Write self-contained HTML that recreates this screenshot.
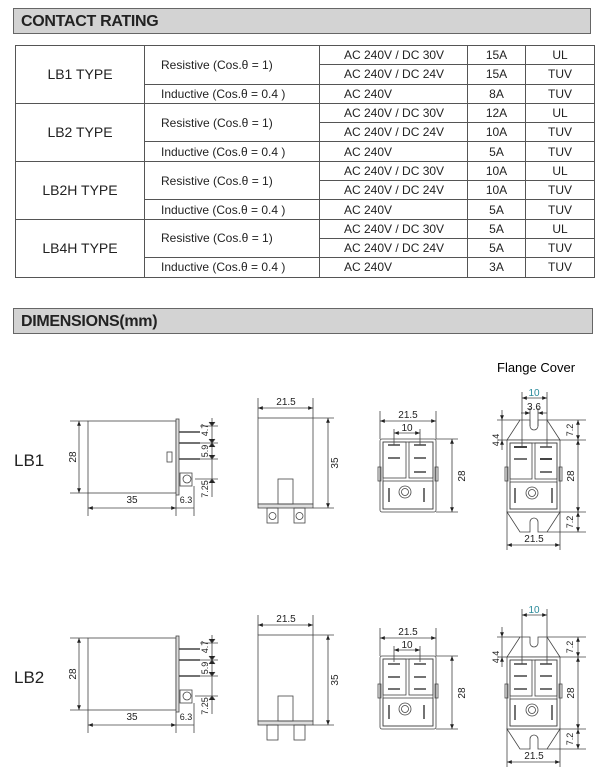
<!DOCTYPE html>
<html><head><meta charset="utf-8"><style>
body{margin:0;width:600px;height:781px;background:#fff;position:relative;overflow:hidden;font-family:"Liberation Sans",Arial,sans-serif;color:#222}
.bar{position:absolute;left:13px;width:578px;height:26px;background:#d3d3d3;border:1px solid #666;font-weight:bold;font-size:16px;line-height:26px;padding-left:7px;box-sizing:border-box;letter-spacing:-0.3px}
table{position:absolute;left:15px;top:45px;border-collapse:collapse;table-layout:fixed;font-size:12px}
td{border:1px solid #555;height:18.3px;padding:0;white-space:nowrap}
td.t{text-align:center;font-size:14px}
td.c{text-align:center}
td.l{padding-left:16px}
td.v{padding-left:24px}
</style></head><body>
<div class="bar" style="top:8px">CONTACT RATING</div>
<table>
<colgroup><col style="width:129px"><col style="width:175px"><col style="width:148px"><col style="width:58px"><col style="width:69px"></colgroup>
<tr><td class="t" rowspan="3">LB1 TYPE</td><td class="l" rowspan="2">Resistive (Cos.θ = 1)</td><td class="v">AC 240V / DC 30V</td><td class="c">15A</td><td class="c">UL</td></tr>
<tr><td class="v">AC 240V / DC 24V</td><td class="c">15A</td><td class="c">TUV</td></tr>
<tr><td class="l">Inductive (Cos.θ = 0.4 )</td><td class="v">AC 240V</td><td class="c">8A</td><td class="c">TUV</td></tr>
<tr><td class="t" rowspan="3">LB2 TYPE</td><td class="l" rowspan="2">Resistive (Cos.θ = 1)</td><td class="v">AC 240V / DC 30V</td><td class="c">12A</td><td class="c">UL</td></tr>
<tr><td class="v">AC 240V / DC 24V</td><td class="c">10A</td><td class="c">TUV</td></tr>
<tr><td class="l">Inductive (Cos.θ = 0.4 )</td><td class="v">AC 240V</td><td class="c">5A</td><td class="c">TUV</td></tr>
<tr><td class="t" rowspan="3">LB2H TYPE</td><td class="l" rowspan="2">Resistive (Cos.θ = 1)</td><td class="v">AC 240V / DC 30V</td><td class="c">10A</td><td class="c">UL</td></tr>
<tr><td class="v">AC 240V / DC 24V</td><td class="c">10A</td><td class="c">TUV</td></tr>
<tr><td class="l">Inductive (Cos.θ = 0.4 )</td><td class="v">AC 240V</td><td class="c">5A</td><td class="c">TUV</td></tr>
<tr><td class="t" rowspan="3">LB4H TYPE</td><td class="l" rowspan="2">Resistive (Cos.θ = 1)</td><td class="v">AC 240V / DC 30V</td><td class="c">5A</td><td class="c">UL</td></tr>
<tr><td class="v">AC 240V / DC 24V</td><td class="c">5A</td><td class="c">TUV</td></tr>
<tr><td class="l">Inductive (Cos.θ = 0.4 )</td><td class="v">AC 240V</td><td class="c">3A</td><td class="c">TUV</td></tr>
</table>
<div class="bar" style="top:308px;width:580px">DIMENSIONS(mm)</div>
<svg width="600" height="781" style="position:absolute;left:0;top:0" font-family="Liberation Sans, Arial, sans-serif">
<defs>
<marker id="a" viewBox="0 0 10 10" refX="10" refY="5" markerWidth="6" markerHeight="6" orient="auto-start-reverse"><path d="M0,1L10,5L0,9z" fill="#222"/></marker>
</defs>
<text x="497" y="372" font-size="13">Flange Cover</text>
<g id="row1" stroke="#444" stroke-width="0.8" fill="none">
<text x="14" y="466" font-size="17" fill="#222" stroke="none">LB1</text>
<!-- side view -->
<rect x="88" y="421" width="88" height="72" fill="#fff"/>
<rect x="176" y="419" width="3" height="76" fill="#ddd"/>
<line x1="179" y1="432" x2="200" y2="432" stroke-width="1.6"/>
<line x1="179" y1="443" x2="200" y2="443" stroke-width="1.6"/>
<line x1="179" y1="459" x2="200" y2="459" stroke-width="1.6"/>
<rect x="167" y="452" width="5" height="10"/>
<rect x="180" y="473" width="12" height="13"/><circle cx="187" cy="479" r="4"/>
<line x1="70" y1="421" x2="88" y2="421"/><line x1="70" y1="493" x2="88" y2="493"/>
<line x1="79" y1="421" x2="79" y2="493" marker-start="url(#a)" marker-end="url(#a)"/>
<text transform="translate(76,457) rotate(-90)" font-size="10" text-anchor="middle" fill="#222" stroke="none">28</text>
<line x1="88" y1="493" x2="88" y2="516"/><line x1="176" y1="495" x2="176" y2="516"/><line x1="194" y1="486" x2="194" y2="516"/>
<line x1="88" y1="508" x2="176" y2="508" marker-start="url(#a)" marker-end="url(#a)"/>
<line x1="176" y1="508" x2="194" y2="508"/>
<text x="132" y="503" font-size="10" text-anchor="middle" fill="#222" stroke="none">35</text>
<text x="186" y="503" font-size="9" text-anchor="middle" fill="#222" stroke="none">6.3</text>
<line x1="200" y1="426" x2="218" y2="426"/><line x1="200" y1="443" x2="218" y2="443"/><line x1="200" y1="459" x2="218" y2="459"/><line x1="195" y1="479" x2="218" y2="479"/>
<line x1="212" y1="418" x2="212" y2="497"/>
<path d="M209,422 L212,426 L215,422 M209,439 L212,443 L215,439 M209,447 L212,443 L215,447 M209,455 L212,459 L215,455 M209,483 L212,479 L215,483" fill="#222"/>
<text transform="translate(208,430) rotate(-90)" font-size="9" text-anchor="middle" fill="#222" stroke="none">4.7</text>
<text transform="translate(208,451) rotate(-90)" font-size="9" text-anchor="middle" fill="#222" stroke="none">5.9</text>
<text transform="translate(208,489) rotate(-90)" font-size="9" text-anchor="middle" fill="#222" stroke="none">7.25</text>
<!-- front view -->
<rect x="258" y="418" width="55" height="86" fill="#fff"/>
<rect x="258" y="504" width="55" height="4" fill="#ddd"/>
<rect x="278" y="479" width="15" height="25"/>
<rect x="267" y="508" width="11" height="15"/><circle cx="272.5" cy="516" r="3.5"/>
<rect x="294" y="508" width="11" height="15"/><circle cx="299.5" cy="516" r="3.5"/>
<line x1="258" y1="398" x2="258" y2="418"/><line x1="313" y1="398" x2="313" y2="418"/>
<line x1="258" y1="408" x2="313" y2="408" marker-start="url(#a)" marker-end="url(#a)"/>
<text x="286" y="405" font-size="10" text-anchor="middle" fill="#222" stroke="none">21.5</text>
<line x1="313" y1="418" x2="334" y2="418"/><line x1="313" y1="508" x2="334" y2="508"/>
<line x1="328" y1="418" x2="328" y2="508" marker-start="url(#a)" marker-end="url(#a)"/>
<text transform="translate(338,463) rotate(-90)" font-size="10" text-anchor="middle" fill="#222" stroke="none">35</text>
<!-- bottom view -->
<rect x="380" y="439" width="56" height="73" rx="2" fill="#fff"/>
<rect x="383" y="442" width="50" height="67"/>
<rect x="383" y="442" width="23" height="36"/><rect x="409" y="442" width="24" height="36"/>
<rect x="383" y="481" width="50" height="28"/>
<rect x="378" y="467" width="3" height="14"/><rect x="435" y="467" width="3" height="14"/>
<circle cx="405" cy="492" r="6"/><circle cx="405" cy="492" r="3.5"/>
<g stroke-width="1.5"><line x1="388" y1="445" x2="400" y2="445"/><line x1="388" y1="458" x2="400" y2="458"/><line x1="414" y1="445" x2="426" y2="445"/><line x1="414" y1="458" x2="426" y2="458"/><line x1="414" y1="472" x2="426" y2="472"/><line x1="389" y1="488" x2="389" y2="502"/><line x1="424" y1="488" x2="424" y2="502"/></g>
<line x1="380" y1="411" x2="380" y2="439"/><line x1="436" y1="411" x2="436" y2="439"/>
<line x1="380" y1="421" x2="436" y2="421" marker-start="url(#a)" marker-end="url(#a)"/>
<text x="408" y="418" font-size="10" text-anchor="middle" fill="#222" stroke="none">21.5</text>
<line x1="394" y1="429" x2="394" y2="445"/><line x1="420" y1="429" x2="420" y2="445"/>
<line x1="394" y1="433" x2="420" y2="433" marker-start="url(#a)" marker-end="url(#a)"/>
<text x="407" y="431" font-size="10" text-anchor="middle" fill="#222" stroke="none">10</text>
<line x1="436" y1="439" x2="458" y2="439"/><line x1="436" y1="512" x2="458" y2="512"/>
<line x1="452" y1="439" x2="452" y2="512" marker-start="url(#a)" marker-end="url(#a)"/>
<text transform="translate(465,476) rotate(-90)" font-size="10" text-anchor="middle" fill="#222" stroke="none">28</text>
<!-- flange view -->
<path d="M507,440 L520,420 L530,420 L530,426 A4,4 0 0 0 538,426 L538,420 L547,420 L560,440 Z" fill="#fff"/>
<path d="M507,512 L520,532 L530,532 L530,522 A4,4 0 0 1 538,522 L538,532 L547,532 L560,512 Z" fill="#fff"/>
<rect x="507" y="440" width="53" height="72" fill="#fff"/>
<rect x="510" y="443" width="47" height="66"/>
<rect x="510" y="443" width="22" height="36"/><rect x="535" y="443" width="22" height="36"/>
<rect x="510" y="482" width="47" height="27"/>
<rect x="505" y="467" width="3" height="14"/><rect x="559" y="467" width="3" height="14"/>
<circle cx="532" cy="493" r="6"/><circle cx="532" cy="493" r="3.5"/>
<g stroke-width="1.5"><line x1="514" y1="447" x2="527" y2="447" stroke-width="2"/><line x1="514" y1="459" x2="527" y2="459"/><line x1="540" y1="447" x2="552" y2="447"/><line x1="540" y1="459" x2="552" y2="459" stroke-width="2"/><line x1="540" y1="472" x2="552" y2="472"/><line x1="515" y1="488" x2="515" y2="503"/><line x1="552" y1="488" x2="552" y2="503"/></g>
<line x1="522" y1="392" x2="522" y2="447"/><line x1="547" y1="392" x2="547" y2="447"/>
<line x1="522" y1="398" x2="547" y2="398" marker-start="url(#a)" marker-end="url(#a)"/>
<text x="534" y="396" font-size="10" text-anchor="middle" fill="#2a8a9a" stroke="none">10</text>
<line x1="530" y1="408" x2="530" y2="426"/><line x1="538" y1="408" x2="538" y2="426"/>
<line x1="521" y1="413" x2="530" y2="413" marker-end="url(#a)"/><line x1="547" y1="413" x2="538" y2="413" marker-end="url(#a)"/>
<text x="534" y="410" font-size="10" text-anchor="middle" fill="#222" stroke="none">3.6</text>
<line x1="497" y1="420" x2="520" y2="420"/><line x1="497" y1="440" x2="507" y2="440"/>
<line x1="502" y1="410" x2="502" y2="420" marker-end="url(#a)"/><line x1="502" y1="450" x2="502" y2="440" marker-end="url(#a)"/>
<line x1="502" y1="420" x2="502" y2="440"/>
<text transform="translate(499,440) rotate(-90)" font-size="9" text-anchor="middle" fill="#222" stroke="none">4.4</text>
<line x1="547" y1="420" x2="586" y2="420"/><line x1="560" y1="440" x2="586" y2="440"/><line x1="560" y1="512" x2="586" y2="512"/><line x1="547" y1="532" x2="586" y2="532"/>
<line x1="578" y1="420" x2="578" y2="440" marker-start="url(#a)" marker-end="url(#a)"/>
<line x1="578" y1="440" x2="578" y2="512" marker-start="url(#a)" marker-end="url(#a)"/>
<line x1="578" y1="512" x2="578" y2="532" marker-start="url(#a)" marker-end="url(#a)"/>
<text transform="translate(573,430) rotate(-90)" font-size="9" text-anchor="middle" fill="#222" stroke="none">7.2</text>
<text transform="translate(574,476) rotate(-90)" font-size="10" text-anchor="middle" fill="#222" stroke="none">28</text>
<text transform="translate(573,522) rotate(-90)" font-size="9" text-anchor="middle" fill="#222" stroke="none">7.2</text>
<line x1="507" y1="512" x2="507" y2="550"/><line x1="560" y1="512" x2="560" y2="550"/>
<line x1="507" y1="545" x2="560" y2="545" marker-start="url(#a)" marker-end="url(#a)"/>
<text x="534" y="542" font-size="10" text-anchor="middle" fill="#222" stroke="none">21.5</text>
</g>
<g transform="translate(0,217)" stroke="#444" stroke-width="0.8" fill="none">
<rect x="0" y="440" width="40" height="30" fill="#fff" stroke="none"/>
<text x="14" y="466" font-size="17" fill="#222" stroke="none">LB2</text>
<rect x="88" y="421" width="88" height="72" fill="#fff"/>
<rect x="176" y="419" width="3" height="76" fill="#ddd"/>
<line x1="179" y1="432" x2="200" y2="432" stroke-width="1.6"/>
<line x1="179" y1="443" x2="200" y2="443" stroke-width="1.6"/>
<line x1="179" y1="459" x2="200" y2="459" stroke-width="1.6"/>
<rect x="180" y="473" width="12" height="13"/><circle cx="187" cy="479" r="4"/>
<line x1="70" y1="421" x2="88" y2="421"/><line x1="70" y1="493" x2="88" y2="493"/>
<line x1="79" y1="421" x2="79" y2="493" marker-start="url(#a)" marker-end="url(#a)"/>
<text transform="translate(76,457) rotate(-90)" font-size="10" text-anchor="middle" fill="#222" stroke="none">28</text>
<line x1="88" y1="493" x2="88" y2="516"/><line x1="176" y1="495" x2="176" y2="516"/><line x1="194" y1="486" x2="194" y2="516"/>
<line x1="88" y1="508" x2="176" y2="508" marker-start="url(#a)" marker-end="url(#a)"/>
<line x1="176" y1="508" x2="194" y2="508"/>
<text x="132" y="503" font-size="10" text-anchor="middle" fill="#222" stroke="none">35</text>
<text x="186" y="503" font-size="9" text-anchor="middle" fill="#222" stroke="none">6.3</text>
<line x1="200" y1="426" x2="218" y2="426"/><line x1="200" y1="443" x2="218" y2="443"/><line x1="200" y1="459" x2="218" y2="459"/><line x1="195" y1="479" x2="218" y2="479"/>
<line x1="212" y1="418" x2="212" y2="497"/>
<path d="M209,422 L212,426 L215,422 M209,439 L212,443 L215,439 M209,447 L212,443 L215,447 M209,455 L212,459 L215,455 M209,483 L212,479 L215,483" fill="#222"/>
<text transform="translate(208,430) rotate(-90)" font-size="9" text-anchor="middle" fill="#222" stroke="none">4.7</text>
<text transform="translate(208,451) rotate(-90)" font-size="9" text-anchor="middle" fill="#222" stroke="none">5.9</text>
<text transform="translate(208,489) rotate(-90)" font-size="9" text-anchor="middle" fill="#222" stroke="none">7.25</text>
<rect x="258" y="418" width="55" height="86" fill="#fff"/>
<rect x="258" y="504" width="55" height="4" fill="#ddd"/>
<rect x="278" y="479" width="15" height="25"/>
<rect x="267" y="508" width="11" height="15"/><rect x="294" y="508" width="11" height="15"/>
<line x1="258" y1="398" x2="258" y2="418"/><line x1="313" y1="398" x2="313" y2="418"/>
<line x1="258" y1="408" x2="313" y2="408" marker-start="url(#a)" marker-end="url(#a)"/>
<text x="286" y="405" font-size="10" text-anchor="middle" fill="#222" stroke="none">21.5</text>
<line x1="313" y1="418" x2="334" y2="418"/><line x1="313" y1="508" x2="334" y2="508"/>
<line x1="328" y1="418" x2="328" y2="508" marker-start="url(#a)" marker-end="url(#a)"/>
<text transform="translate(338,463) rotate(-90)" font-size="10" text-anchor="middle" fill="#222" stroke="none">35</text>
<rect x="380" y="439" width="56" height="73" rx="2" fill="#fff"/>
<rect x="383" y="442" width="50" height="67"/>
<rect x="383" y="442" width="23" height="36"/><rect x="409" y="442" width="24" height="36"/>
<rect x="383" y="481" width="50" height="28"/>
<rect x="378" y="467" width="3" height="14"/><rect x="435" y="467" width="3" height="14"/>
<circle cx="405" cy="492" r="6"/><circle cx="405" cy="492" r="3.5"/>
<g stroke-width="1.5"><line x1="388" y1="447" x2="400" y2="447"/><line x1="388" y1="460" x2="400" y2="460"/><line x1="388" y1="472" x2="400" y2="472"/><line x1="414" y1="447" x2="426" y2="447"/><line x1="414" y1="460" x2="426" y2="460"/><line x1="414" y1="472" x2="426" y2="472"/><line x1="389" y1="488" x2="389" y2="502"/><line x1="424" y1="488" x2="424" y2="502"/></g>
<line x1="380" y1="411" x2="380" y2="439"/><line x1="436" y1="411" x2="436" y2="439"/>
<line x1="380" y1="421" x2="436" y2="421" marker-start="url(#a)" marker-end="url(#a)"/>
<text x="408" y="418" font-size="10" text-anchor="middle" fill="#222" stroke="none">21.5</text>
<line x1="394" y1="429" x2="394" y2="445"/><line x1="420" y1="429" x2="420" y2="445"/>
<line x1="394" y1="433" x2="420" y2="433" marker-start="url(#a)" marker-end="url(#a)"/>
<text x="407" y="431" font-size="10" text-anchor="middle" fill="#222" stroke="none">10</text>
<line x1="436" y1="439" x2="458" y2="439"/><line x1="436" y1="512" x2="458" y2="512"/>
<line x1="452" y1="439" x2="452" y2="512" marker-start="url(#a)" marker-end="url(#a)"/>
<text transform="translate(465,476) rotate(-90)" font-size="10" text-anchor="middle" fill="#222" stroke="none">28</text>
<path d="M507,440 L520,420 L530,420 L530,426 A4,4 0 0 0 538,426 L538,420 L547,420 L560,440 Z" fill="#fff"/>
<path d="M507,512 L520,532 L530,532 L530,522 A4,4 0 0 1 538,522 L538,532 L547,532 L560,512 Z" fill="#fff"/>
<rect x="507" y="440" width="53" height="72" fill="#fff"/>
<rect x="510" y="443" width="47" height="66"/>
<rect x="510" y="443" width="22" height="36"/><rect x="535" y="443" width="22" height="36"/>
<rect x="510" y="482" width="47" height="27"/>
<rect x="505" y="467" width="3" height="14"/><rect x="559" y="467" width="3" height="14"/>
<circle cx="532" cy="493" r="6"/><circle cx="532" cy="493" r="3.5"/>
<g stroke-width="1.5"><line x1="514" y1="447" x2="527" y2="447"/><line x1="514" y1="459" x2="527" y2="459"/><line x1="514" y1="472" x2="527" y2="472"/><line x1="540" y1="447" x2="552" y2="447"/><line x1="540" y1="459" x2="552" y2="459"/><line x1="540" y1="472" x2="552" y2="472"/><line x1="515" y1="488" x2="515" y2="503"/><line x1="552" y1="488" x2="552" y2="503"/></g>
<line x1="522" y1="392" x2="522" y2="447"/><line x1="547" y1="392" x2="547" y2="447"/>
<line x1="522" y1="398" x2="547" y2="398" marker-start="url(#a)" marker-end="url(#a)"/>
<text x="534" y="396" font-size="10" text-anchor="middle" fill="#2a8a9a" stroke="none">10</text>
<line x1="497" y1="420" x2="520" y2="420"/><line x1="497" y1="440" x2="507" y2="440"/>
<line x1="502" y1="410" x2="502" y2="420" marker-end="url(#a)"/><line x1="502" y1="450" x2="502" y2="440" marker-end="url(#a)"/>
<line x1="502" y1="420" x2="502" y2="440"/>
<text transform="translate(499,440) rotate(-90)" font-size="9" text-anchor="middle" fill="#222" stroke="none">4.4</text>
<line x1="547" y1="420" x2="586" y2="420"/><line x1="560" y1="440" x2="586" y2="440"/><line x1="560" y1="512" x2="586" y2="512"/><line x1="547" y1="532" x2="586" y2="532"/>
<line x1="578" y1="420" x2="578" y2="440" marker-start="url(#a)" marker-end="url(#a)"/>
<line x1="578" y1="440" x2="578" y2="512" marker-start="url(#a)" marker-end="url(#a)"/>
<line x1="578" y1="512" x2="578" y2="532" marker-start="url(#a)" marker-end="url(#a)"/>
<text transform="translate(573,430) rotate(-90)" font-size="9" text-anchor="middle" fill="#222" stroke="none">7.2</text>
<text transform="translate(574,476) rotate(-90)" font-size="10" text-anchor="middle" fill="#222" stroke="none">28</text>
<text transform="translate(573,522) rotate(-90)" font-size="9" text-anchor="middle" fill="#222" stroke="none">7.2</text>
<line x1="507" y1="512" x2="507" y2="550"/><line x1="560" y1="512" x2="560" y2="550"/>
<line x1="507" y1="545" x2="560" y2="545" marker-start="url(#a)" marker-end="url(#a)"/>
<text x="534" y="542" font-size="10" text-anchor="middle" fill="#222" stroke="none">21.5</text>
</g>
</svg>
</body></html>
